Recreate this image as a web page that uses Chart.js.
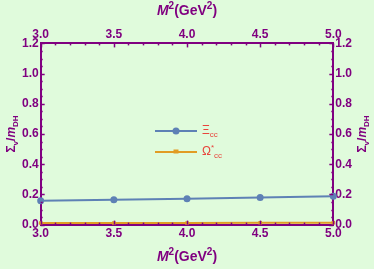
<!DOCTYPE html>
<html>
<head>
<meta charset="utf-8">
<script src="https://cdn.jsdelivr.net/npm/chart.js@4"></script>
<style>
  html, body { margin: 0; padding: 0; background: #e0fbdc; }
  #wrap { width: 374px; height: 269px; }
</style>
</head>
<body>
<div id="wrap"><canvas id="chart"></canvas></div>
<script>
const massSq = [3.0, 3.5, 4.0, 4.5, 5.0];
const xiValues = [0.158, 0.165, 0.172, 0.179, 0.187];
const omegaValues = [0.010, 0.011, 0.011, 0.012, 0.012];
const xTickLabels = ["3.0", "3.5", "4.0", "4.5", "5.0"];
const yTickLabels = ["0.0", "0.2", "0.4", "0.6", "0.8", "1.0", "1.2"];

const purple = "#800080";
const blue = "#5e81b5";
const orange = "#e19c24";
const red = "#e8453c";
const fontFamily = "'Liberation Sans', Arial, sans-serif";

function xLabel(v) {
    const s = v.toFixed(1);
    return (Math.abs(v * 2 - Math.round(v * 2)) < 1e-6 && xTickLabels.includes(s)) ? s : "";
}
function yLabel(v) {
    const s = v.toFixed(1);
    return (Math.abs(v * 5 - Math.round(v * 5)) < 1e-6 && yTickLabels.includes(s)) ? s : "";
}

const tickFont = {family: fontFamily, size: 12, weight: "bold"};

function axis(position, min, max, step, cb) {
    return {
        type: "linear",
        position: position,
        min: min,
        max: max,
        grid: {display: true, drawOnChartArea: false, drawTicks: false},
        border: {display: true, color: purple, width: 2},
        ticks: {
            stepSize: step,
            autoSkip: false,
            maxRotation: 0,
            padding: 2,
            color: purple,
            font: tickFont,
            callback: cb
        }
    };
}

// draw a run of text pieces (italic / sup / sub) centred at x,y
function richText(ctx, parts, x, y, size, color, weight) {
    weight = weight || "bold";
    const fontFor = p => {
        const s = (p.sup || p.sub) ? Math.round(size * 0.7) : size;
        return (p.italic ? "italic " : "") + weight + " " + s + "px " + fontFamily;
    };
    let total = 0;
    parts.forEach(p => { ctx.font = fontFor(p); total += ctx.measureText(p.t).width; });
    let cx = x - total / 2;
    ctx.fillStyle = color;
    ctx.textBaseline = "middle";
    ctx.textAlign = "left";
    parts.forEach(p => {
        ctx.font = fontFor(p);
        let dy = 0;
        if (p.sup) dy = -size * 0.35;
        if (p.sub) dy = size * 0.3;
        ctx.fillText(p.t, cx, y + dy);
        cx += ctx.measureText(p.t).width;
    });
    return total;
}

const xTitle = [{t: "M", italic: true}, {t: "2", sup: true}, {t: "(GeV"}, {t: "2", sup: true}, {t: ")"}];
const yTitle = [{t: "Σ"}, {t: "v", sub: true}, {t: "/"}, {t: "m", italic: true}, {t: "DH", sub: true}];

const framePlugin = {
    id: "frame",
    afterDatasetsDraw(chart) {
        const ctx = chart.ctx;
        const a = chart.chartArea;
        ctx.save();
        ctx.strokeStyle = purple;
        ctx.lineWidth = 1.5;
        // inward ticks on all four sides
        ["x", "x2"].forEach(id => {
            const sc = chart.scales[id];
            sc.ticks.forEach(t => {
                const px = Math.round(sc.getPixelForValue(t.value)) + 0.5;
                const len = t.label ? 4 : 2;
                const y0 = id === "x" ? a.bottom : a.top;
                const dir = id === "x" ? -1 : 1;
                ctx.beginPath();
                ctx.moveTo(px, y0);
                ctx.lineTo(px, y0 + dir * len);
                ctx.stroke();
            });
        });
        ["y", "y2"].forEach(id => {
            const sc = chart.scales[id];
            sc.ticks.forEach(t => {
                const py = Math.round(sc.getPixelForValue(t.value)) + 0.5;
                const len = t.label ? 4 : 2;
                const x0 = id === "y" ? a.left : a.right;
                const dir = id === "y" ? 1 : -1;
                ctx.beginPath();
                ctx.moveTo(x0, py);
                ctx.lineTo(x0 + dir * len, py);
                ctx.stroke();
            });
        });
        ctx.restore();
    },
    afterDraw(chart) {
        const ctx = chart.ctx;
        const a = chart.chartArea;
        const midX = (a.left + a.right) / 2;
        const midY = (a.top + a.bottom) / 2;
        ctx.save();
        richText(ctx, xTitle, midX, 11, 14, purple);
        richText(ctx, xTitle, midX, 257, 14, purple);
        ctx.save();
        ctx.translate(12, midY);
        ctx.rotate(-Math.PI / 2);
        richText(ctx, yTitle, 0, 0, 12, purple);
        ctx.restore();
        ctx.save();
        ctx.translate(363, midY);
        ctx.rotate(-Math.PI / 2);
        richText(ctx, yTitle, 0, 0, 12, purple);
        ctx.restore();

        // legend inside the plot
        const legend = [
            {color: blue, style: "circle", text: [{t: "Ξ"}, {t: "cc", sub: true}]},
            {color: orange, style: "rect", text: [{t: "Ω"}, {t: "*", sup: true}, {t: "cc", sub: true}]}
        ];
        legend.forEach((item, i) => {
            const y = 131 + i * 21;
            const x0 = 155, x1 = 197;
            ctx.strokeStyle = item.color;
            ctx.lineWidth = 2;
            ctx.beginPath();
            ctx.moveTo(x0, y);
            ctx.lineTo(x1, y);
            ctx.stroke();
            ctx.fillStyle = item.color;
            if (item.style === "circle") {
                ctx.beginPath();
                ctx.arc((x0 + x1) / 2, y, 3.5, 0, Math.PI * 2);
                ctx.fill();
            } else {
                ctx.fillRect((x0 + x1) / 2 - 2.5, y - 2.5, 5, 4);
            }
            let w = 0;
            item.text.forEach(p => {
                const s = (p.sup || p.sub) ? 8 : 12;
                ctx.font = "normal " + s + "px " + fontFamily;
                w += ctx.measureText(p.t).width;
            });
            richText(ctx, item.text, 202 + w / 2, y, 12, red, "normal");
        });
        ctx.restore();
    }
};

new Chart(document.getElementById("chart"), {
    type: "line",
    data: {
        labels: massSq,
        datasets: [
            {
                label: "Ξcc",
                data: massSq.map((m, i) => ({x: m, y: xiValues[i]})),
                borderColor: blue,
                backgroundColor: blue,
                borderWidth: 2,
                pointRadius: 3.5,
                pointStyle: "circle",
                pointBorderWidth: 0,
                clip: 4
            },
            {
                label: "Ω*cc",
                data: massSq.map((m, i) => ({x: m, y: omegaValues[i]})),
                borderColor: orange,
                backgroundColor: orange,
                borderWidth: 2,
                pointRadius: 2.5,
                pointStyle: "rect",
                pointBorderWidth: 0,
                clip: 4
            }
        ]
    },
    options: {
        animation: false,
        responsive: true,
        maintainAspectRatio: false,
        layout: {padding: {left: 20, right: 20, top: 25, bottom: 26}},
        scales: {
            x: axis("bottom", 3, 5, 0.1, xLabel),
            x2: axis("top", 3, 5, 0.1, xLabel),
            y: axis("left", 0, 1.2, 0.05, yLabel),
            y2: axis("right", 0, 1.2, 0.05, yLabel)
        },
        plugins: {
            legend: {display: false},
            tooltip: {enabled: false}
        }
    },
    plugins: [framePlugin]
});
</script>
</body>
</html>
